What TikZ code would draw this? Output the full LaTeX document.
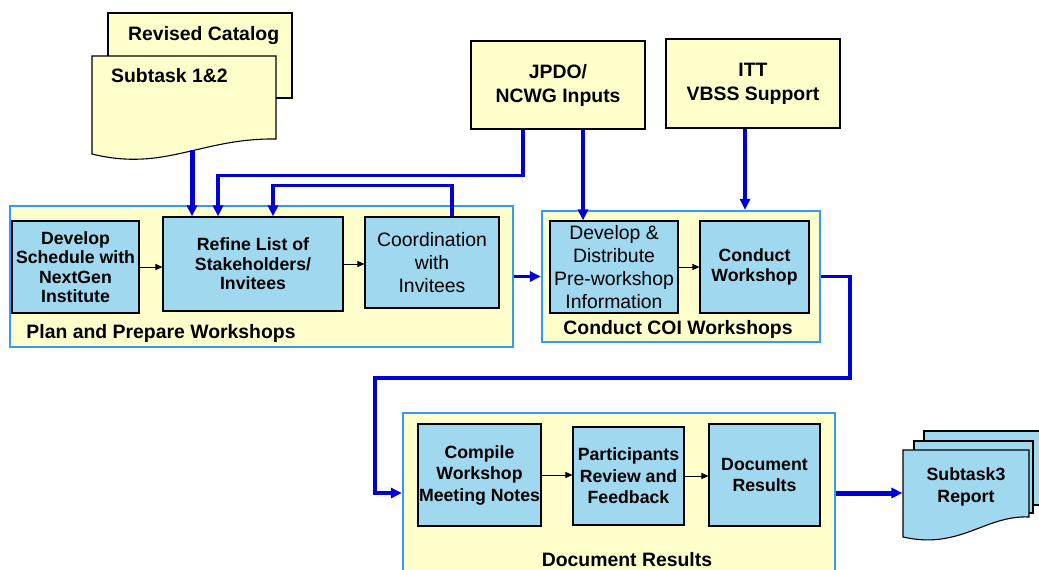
\documentclass[tikz,border=0pt]{standalone}
\usepackage{fontspec}
\setmainfont{Liberation Sans}
\usetikzlibrary{arrows.meta}
\definecolor{paper}{RGB}{255,255,204}
\definecolor{task}{RGB}{160,216,240}
\definecolor{frame}{RGB}{51,153,255}
\definecolor{flow}{RGB}{0,0,214}

\tikzset{
  group/.style={draw=frame, fill=paper, line width=2.2pt, inner sep=0pt},
  groupname/.style={inner sep=0pt, font=\bfseries\fontsize{19.4}{23}\selectfont},
  taskbox/.style={draw=black, fill=task, line width=1.1pt, inner sep=0pt, align=center,
    font=\bfseries\fontsize{17.7}{19.5}\selectfont},
  widebox/.style={taskbox, font=\bfseries\fontsize{17.7}{21.5}\selectfont},
  plainbox/.style={taskbox, font=\fontsize{19.4}{23}\selectfont},
  inputbox/.style={draw=black, fill=paper, line width=1.1pt, inner sep=0pt, align=center,
    font=\bfseries\fontsize{19.4}{24}\selectfont},
  sheet/.style={draw=black, line width=1.1pt},
  link/.style={draw=flow, line width=3.5pt, -{Triangle[length=11pt,width=10pt]}},
  next/.style={draw=black, line width=1pt, -{Triangle[length=7pt,width=6pt]}}
}

\begin{document}
\begin{tikzpicture}[x=1pt, y=-1pt]
  \path[use as bounding box, fill=white] (0,0) rectangle (1039,570);

  % ulazni dokumenti
  \filldraw[sheet, fill=paper] (108,13) rectangle (292,98);
  \filldraw[sheet, fill=paper] (92,56) -- (276,56) -- (276,139)
    .. controls (200,138) and (165,172) .. (92,154) -- cycle;
  \node[groupname, anchor=west] (catalog) at (128,36) {Revised Catalog};
  \node[groupname, anchor=west] (sub12) at (111,76) {Subtask 1\&2};
  \coordinate (sub12wave) at (192,150);

  % izvjestaj
  \filldraw[sheet, fill=task] (924,431) rectangle (1045,505);
  \filldraw[sheet, fill=task] (914,441) rectangle (1033,513);
  \filldraw[sheet, fill=task] (903,450) -- (1029,450) -- (1029,517)
    .. controls (985,515) and (960,550) .. (903,537) -- cycle;
  \node[widebox, draw=none, fill=none, minimum width=126] (rep) at (966,487)
    {Subtask3\\Report};

  % ulazi
  \node[inputbox, minimum width=174, minimum height=88] (jpdo) at (558,85) {JPDO/\\NCWG Inputs};
  \node[inputbox, minimum width=174, minimum height=89] (itt) at (753,83.5) {ITT\\VBSS Support};

  % grupe
  \node[group, minimum width=503, minimum height=141] (plan) at (261.5,276.5) {};
  \node[groupname] (planname) at (161,333) {Plan and Prepare Workshops};
  \node[group, minimum width=278, minimum height=131] (coi) at (681,276.5) {};
  \node[groupname] (coiname) at (678,329) {Conduct COI Workshops};
  \node[group, minimum width=432, minimum height=160] (docs) at (619,493) {};
  \node[groupname] (docsname) at (627,560) {Document Results};

  % koraci
  \node[taskbox, minimum width=127, minimum height=92] (dev) at (75.5,267)
    {Develop\\Schedule with\\NextGen\\Institute};
  \node[taskbox, minimum width=180, minimum height=94] (refine) at (253,264)
    {Refine List of\\Stakeholders/\\Invitees};
  \node[plainbox, minimum width=134, minimum height=91] (coord) at (432,262.5)
    {Coordination\\with\\Invitees};
  \node[plainbox, minimum width=128, minimum height=92] (dd) at (614,267)
    {Develop \&\\Distribute\\Pre-workshop\\Information};
  \node[taskbox, minimum width=109, minimum height=92] (conduct) at (754.5,267)
    {Conduct\\Workshop};
  \node[widebox, minimum width=123, minimum height=102] (compile) at (479.5,475)
    {Compile\\Workshop\\Meeting Notes};
  \node[widebox, minimum width=111, minimum height=98] (review) at (628.5,476)
    {Participants\\Review and\\Feedback};
  \node[widebox, minimum width=111, minimum height=102] (result) at (764.5,475)
    {Document\\Results};

  % tanke strelice
  \draw[next] (dev.east) -- (dev.east -| refine.west);
  \draw[next] (refine.east) -- (refine.east -| coord.west);
  \draw[next] (dd) -- (conduct);
  \draw[next] (compile.east) -- (compile.east -| review.west);
  \draw[next] (review.east) -- (review.east -| result.west);

  % tok
  \coordinate (bend) at (375,378);
  \draw[link, line width=5pt] (sub12wave) -- (sub12wave |- refine.north);
  \draw[link] ([xshift=-35]jpdo.south) -- ++(0,46) -| ([xshift=-35]refine.north);
  \draw[link] ([xshift=20]coord.north) -- ++(0,-31) -| ([xshift=20]refine.north);
  \draw[link] ([xshift=25]jpdo.south) -- ([xshift=25]jpdo.south |- dd.north);
  \draw[link] ([xshift=-8]itt.south) -- ([xshift=-8]itt.south |- coi.north);
  \draw[link] (plan) -- (coi);
  \draw[link] (coi.east) -- ++(29,0) |- (bend) |- (docs.west);
  \draw[link, line width=5pt] (docs.east) -- (docs.east -| rep.west);
\end{tikzpicture}
\end{document}
